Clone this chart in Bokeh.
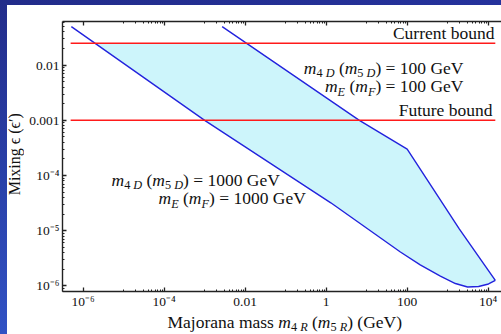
import numpy as np
from bokeh.plotting import figure
from bokeh.layouts import column, row
from bokeh.models import FixedTicker, LogAxis, Range1d
from bokeh.core.properties import value
from bokeh.embed import file_html
from bokeh.resources import INLINE

# ---------------- data ----------------
# lower boundary curve: m4D (m5D) = mE (mF) = 1000 GeV
lower_mass = [5.1e-7, 1.0e-3, 1.3, 68.0, 210.0, 660.0, 1550.0, 3100.0, 5800.0, 1.02e4, 1.5e4]
lower_mix = [5.0e-2, 1.0e-3, 3.2e-5, 4.1e-6, 2.4e-6, 1.5e-6, 1.1e-6, 9.5e-7, 9.7e-7, 1.08e-6, 1.26e-6]
# upper boundary curve: m4D (m5D) = mE (mF) = 100 GeV
upper_mass = [2.7e-3, 6.6, 100.0, 1950.0, 1.5e4]
upper_mix = [5.0e-2, 1.0e-3, 3.0e-4, 1.07e-5, 1.26e-6]
# experimental bounds
current_bound = 0.025
future_bound = 0.001
bound_mass = [4.9e-7, 1.5e4]

x_major = [1e-6, 1e-4, 1e-2, 1.0, 1e2, 1e4]
x_major_labels = ["10⁻⁶", "10⁻⁴", "0.01", "1", "100", "10⁴"]
y_major = [1e-6, 1e-5, 1e-4, 1e-3, 1e-2]
y_major_labels = ["10⁻⁶", "10⁻⁵", "10⁻⁴", "0.001", "0.01"]

# ---------------- layout (page pixels) ----------------
PAD_L, PAD_T = 7, 5                 # blue slide strips
YLAB_W = 17                         # y-title figure width
MAIN_W, MAIN_H = 501 - PAD_L - YLAB_W, 306
XLAB_H = 334 - PAD_T - MAIN_H
MAIN_X0, MAIN_Y0 = PAD_L + YLAB_W, PAD_T
B_LEFT, B_TOP, B_RIGHT = 38, 16, 0
B_BOTTOM = 18
FRAME_W = MAIN_W - B_LEFT - B_RIGHT
FRAME_H = MAIN_H - B_TOP - B_BOTTOM
PX0, PY0 = MAIN_X0 + B_LEFT, MAIN_Y0 + B_TOP
XLO, XHI = -6.511, 4.329
YLO, YHI = -6.103, -1.208
BASE_SHIFT = 0.37                   # renderer places "alphabetic" text this many em low


def main_xy(px, py):
    return (10 ** (XLO + (px - PX0) / FRAME_W * (XHI - XLO)),
            10 ** (YHI - (py - PY0) / FRAME_H * (YHI - YLO)))


p = figure(width=MAIN_W, height=MAIN_H, x_axis_type="log", y_axis_type="log",
           x_range=Range1d(10 ** XLO, 10 ** XHI), y_range=Range1d(10 ** YLO, 10 ** YHI),
           output_backend="svg", toolbar_location=None, title=None,
           min_border_left=B_LEFT, min_border_right=B_RIGHT,
           min_border_top=B_TOP, min_border_bottom=B_BOTTOM)
p.background_fill_color = "white"
p.border_fill_color = "white"
p.outline_line_color = None
p.xgrid.visible = False
p.ygrid.visible = False

bottom = p.below[0]
left = p.left[0]

x_minor = [k * 10.0 ** n for n in (-5, -3, -1, 1, 3) for k in range(1, 10)]
y_minor = [k * 10.0 ** n for n in range(-7, -1) for k in range(2, 10)]
bottom.ticker = FixedTicker(ticks=x_major, minor_ticks=x_minor)
left.ticker = FixedTicker(ticks=y_major, minor_ticks=y_minor)
bottom.major_label_overrides = {v: s for v, s in zip(x_major, x_major_labels)}
left.major_label_overrides = {v: s for v, s in zip(y_major, y_major_labels)}

top = LogAxis(ticker=FixedTicker(ticks=x_major, minor_ticks=x_minor))
top.major_label_overrides = {v: "" for v in x_major}
top.major_label_text_font_size = "1px"
top.major_label_standoff = 0
p.add_layout(top, "above")

for ax in (bottom, left, top):
    ax.axis_line_color = "#222222"
    ax.axis_line_width = 1.4
    ax.major_tick_in = 4
    ax.major_tick_out = 0
    ax.minor_tick_in = 2
    ax.minor_tick_out = 0
    ax.major_tick_line_color = "#222222"
    ax.minor_tick_line_color = "#222222"
    ax.major_tick_line_width = 1.3
    ax.minor_tick_line_width = 1
    ax.major_label_text_font = "Liberation Serif"
    ax.axis_label = None
for ax in (bottom, left):
    ax.major_label_text_font_size = "13.5px"
    ax.major_label_text_color = "#111111"
bottom.major_label_standoff = 2
left.major_label_standoff = 3


# ---------------- shaded region ----------------
def crossing(xs, ys, level):
    lx, ly = np.log10(xs), np.log10(ys)
    for i in range(1, len(ly)):
        if ly[i] < level <= ly[i - 1]:
            t = (level - ly[i - 1]) / (ly[i] - ly[i - 1])
            return 10 ** (lx[i - 1] + t * (lx[i] - lx[i - 1]))
    return xs[0]


xl = crossing(lower_mass, lower_mix, np.log10(current_bound))
xu = crossing(upper_mass, upper_mix, np.log10(current_bound))
poly_x = [xl] + [m for m, e in zip(lower_mass, lower_mix) if e < current_bound]
poly_y = [current_bound] + [e for e in lower_mix if e < current_bound]
up = [(m, e) for m, e in zip(upper_mass, upper_mix) if e < current_bound][::-1]
poly_x += [m for m, _ in up] + [xu]
poly_y += [e for _, e in up] + [current_bound]
p.patch(poly_x, poly_y, fill_color="#cdf5fb", line_color=None)

p.line(lower_mass, lower_mix, line_color="#2323dd", line_width=1.4)
p.line(upper_mass, upper_mix, line_color="#2323dd", line_width=1.4)
p.line(bound_mass, [current_bound, current_bound], line_color="#ff1a1a", line_width=1.5)
p.line(bound_mass, [future_bound, future_bound], line_color="#ff1a1a", line_width=1.5)

# ---------------- rich text helpers ----------------
ROMAN = {' ': 250, '(': 333, ')': 333, '=': 564, 'G': 722, 'e': 444, 'V': 722, 'M': 889,
         'a': 444, 'j': 278, 'o': 500, 'r': 333, 'n': 500, 's': 389, 'm': 778, 'C': 667,
         'u': 500, 't': 278, 'b': 500, 'd': 500, 'F': 556, 'i': 278, 'x': 500, 'g': 500}
ITALIC = {'m': 722, 'D': 722, 'E': 611, 'F': 611, 'R': 611, ' ': 250}


def text_w(s, italic, size):
    tab = ITALIC if italic else ROMAN
    return sum(tab.get(c, 500) for c in s) * size / 1000.0


def rich(fig, to_data, pieces, px, py, size, align="left", drop=0.22):
    items = []
    for s, italic, sub in pieces:
        fs = size * 0.7 if sub else size
        items.append((s, italic, sub, fs, text_w(s, italic, fs)))
    total = sum(it[4] for it in items)
    cx = px - total if align == "right" else px
    for s, italic, sub, fs, w in items:
        body = s.lstrip(" ")
        cx += text_w(s[:len(s) - len(body)], italic, fs)
        base = py + (drop * size if sub else 0) - BASE_SHIFT * fs
        x, y = to_data(cx, base)
        fig.text(x=[x], y=[y], text=[body.rstrip(" ")], text_font=value("Liberation Serif"),
                 text_font_size=value(f"{fs:.2f}px"),
                 text_font_style="italic" if italic else "normal",
                 text_color="#111111", text_align="left", text_baseline="alphabetic")
        cx += text_w(body, italic, fs)


FS = 17.5
R, I = False, True
rich(p, main_xy, [("Current bound", R, False)], 494, 39.3, FS, "right")
rich(p, main_xy, [("Future bound", R, False)], 492, 116.7, FS, "right")
rich(p, main_xy, [("m", I, False), ("4 ", R, True), ("D", I, True), (" (", R, False),
                  ("m", I, False), ("5 ", R, True), ("D", I, True), (") = 100 GeV", R, False)],
     463, 74, FS, "right")
rich(p, main_xy, [("m", I, False), ("E", I, True), (" (", R, False), ("m", I, False),
                  ("F", I, True), (") = 100 GeV", R, False)], 463, 92.7, FS, "right")
rich(p, main_xy, [("m", I, False), ("4 ", R, True), ("D", I, True), (" (", R, False),
                  ("m", I, False), ("5 ", R, True), ("D", I, True), (") = 1000 GeV", R, False)],
     111, 186.7, FS)
rich(p, main_xy, [("m", I, False), ("E", I, True), (" (", R, False), ("m", I, False),
                  ("F", I, True), (") = 1000 GeV", R, False)], 158, 205.7, FS)


def blank_fig(w, h):
    f = figure(width=w, height=h, x_range=Range1d(0, w), y_range=Range1d(0, h),
               output_backend="svg", toolbar_location=None, title=None,
               x_axis_location=None, y_axis_location=None, min_border=0)
    f.xgrid.visible = False
    f.ygrid.visible = False
    f.outline_line_color = None
    f.background_fill_color = "white"
    f.border_fill_color = "white"
    return f


# y axis title (reads bottom to top)
YFS = 16
fy = blank_fig(YLAB_W, MAIN_H)
fy.text(x=[20 - BASE_SHIFT * YFS - PAD_L], y=[MAIN_H - (202 - PAD_T)], text=["Mixing ϵ (ϵ′)"],
        angle=np.pi / 2, text_font=value("Liberation Serif"), text_font_size=value(f"{YFS}px"),
        text_color="#111111", text_align="left", text_baseline="alphabetic")

# x axis title
fx = blank_fig(501 - PAD_L, XLAB_H)
XLAB_Y0 = PAD_T + MAIN_H


def xlab_xy(px, py):
    return px - PAD_L, XLAB_H - (py - XLAB_Y0)


rich(fx, xlab_xy, [("Majorana mass ", R, False), ("m", I, False), ("4 ", R, True), ("R", I, True),
                   (" (", R, False), ("m", I, False), ("5 ", R, True), ("R", I, True),
                   (") (GeV)", R, False)], 167, 327.8, FS, drop=0.2)

layout = column(row(fy, p, spacing=0), fx, spacing=0)

html = file_html(layout, INLINE)
css = ("<style>html{background: linear-gradient(#222c8a, #3152c4) 0 0 / 7px 100% no-repeat, "
       "linear-gradient(to right, #222c8a, #25329c) 0 0 / 100% 5px no-repeat, #ffffff !important;}"
       "body{padding:5px 0 0 7px !important; background: transparent !important; "
       "overflow: hidden;}</style>")
html = html.replace("</head>", css + "</head>", 1)
open("out.html", "w").write(html)
